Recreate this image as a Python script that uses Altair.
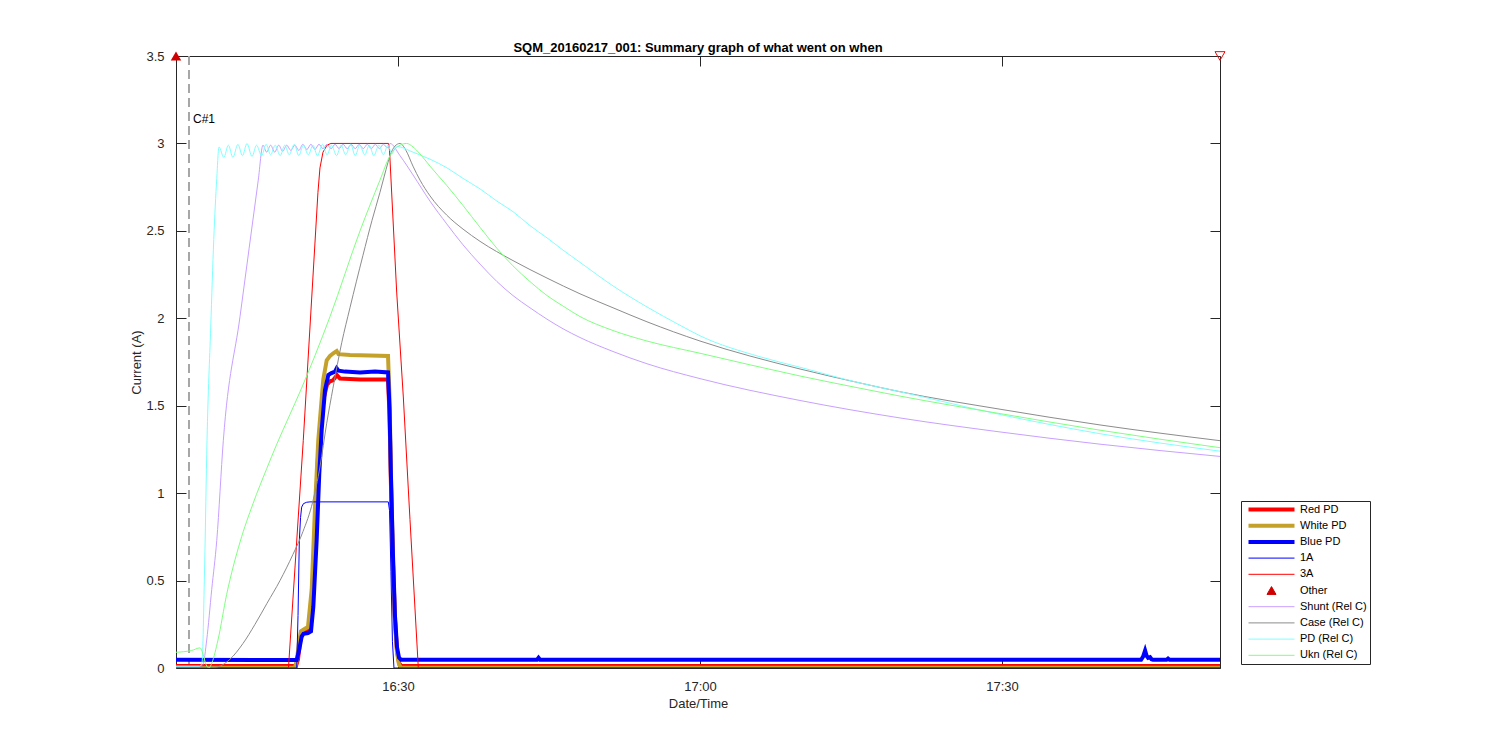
import altair as alt
import pandas as pd

FONT = "Liberation Sans, Arial, Helvetica, sans-serif"
BASE = pd.Timestamp("2016-02-17 16:00:00")

series_names = ["Red PD", "White PD", "Blue PD", "1A", "3A", "Other",
                "Shunt (Rel C)", "Case (Rel C)", "PD (Rel C)", "Ukn (Rel C)"]
series_colors = ["#ff0000", "#c4a12a", "#0000ff", "#0000ff", "#ff0000", "#d00000",
                 "#c8a0ff", "#8c8c8c", "#80ffff", "#80ff80"]

# times are minutes after 16:00, values are current in A
red_pd_min = [7.95, 19.87, 20.07, 20.27, 20.46, 20.86, 21.16, 21.46, 21.76, 22.05, 22.35, 22.65,
              22.95, 23.25, 23.54, 23.94, 24.24, 26.23, 29.01, 29.16, 29.30, 29.50, 29.70, 29.90,
              30.10, 30.30, 111.65]
red_pd_amp = [0.012, 0.012, 0.05, 0.15, 0.19, 0.21, 0.22, 0.35, 0.80, 1.20, 1.42, 1.55,
              1.62, 1.64, 1.645, 1.675, 1.655, 1.65, 1.65, 1.45, 1.05, 0.60, 0.28, 0.10,
              0.03, 0.012, 0.012]

white_pd_min = [7.95, 19.77, 19.97, 20.17, 20.36, 20.76, 21.06, 21.43, 21.76, 22.08, 22.25, 22.58,
                22.92, 23.25, 23.57, 23.91, 24.09, 25.23, 27.22, 29.01, 29.16, 29.30, 29.50, 29.70,
                29.90, 30.10, 30.30, 111.65]
white_pd_amp = [0.002, 0.002, 0.05, 0.15, 0.21, 0.225, 0.235, 0.45, 0.92, 1.30, 1.42, 1.65,
                1.76, 1.785, 1.80, 1.813, 1.795, 1.79, 1.787, 1.785, 1.55, 1.10, 0.62, 0.27,
                0.09, 0.02, 0.002, 0.002]

blue_pd_min = [7.95, 19.94, 20.17, 20.43, 20.61, 21.06, 21.36, 21.59, 21.92, 22.18, 22.42, 22.75,
               23.08, 23.34, 23.74, 23.91, 24.09, 24.74, 26.23, 27.72, 29.01, 29.16, 29.30, 29.50,
               29.70, 29.90, 30.10, 30.30, 43.81, 43.96, 44.11, 103.81, 104.01, 104.21, 104.36,
               104.51, 104.70, 104.85, 105.00, 106.34, 106.49, 106.64, 111.65]
blue_pd_amp = [0.047, 0.046, 0.10, 0.18, 0.195, 0.20, 0.21, 0.35, 0.73, 1.11, 1.36, 1.59,
               1.676, 1.685, 1.695, 1.714, 1.70, 1.695, 1.69, 1.695, 1.69, 1.48, 1.10, 0.65,
               0.30, 0.12, 0.06, 0.047, 0.047, 0.058, 0.047, 0.047, 0.065, 0.10, 0.07,
               0.058, 0.062, 0.05, 0.047, 0.047, 0.054, 0.047, 0.047]

a1_min = [7.95, 19.94, 20.07, 20.20, 20.32, 20.43, 20.61, 20.93, 21.26, 29.04, 29.16, 29.30,
          29.45, 29.60, 111.65]
a1_amp = [0.0, 0.0, 0.30, 0.73, 0.86, 0.92, 0.94, 0.948, 0.95, 0.95, 0.90, 0.55,
          0.15, 0.0, 0.0]

a3_min = [7.95, 19.12, 20.59, 22.05, 22.25, 22.55, 22.95, 23.34, 24.24, 29.06, 29.16, 29.87,
          30.53, 31.19, 32.02, 111.65]
a3_amp = [0.0, 0.0, 1.30, 2.72, 2.86, 2.95, 2.99, 3.0, 3.0, 3.0, 2.96, 2.15,
          1.55, 0.85, 0.0, 0.0]

other_min = [7.95]
other_amp = [3.5]
end_min = [111.65]
end_amp = [3.5]

shunt_min = [7.95, 10.33, 10.63, 11.00, 11.50, 12.00, 12.65, 14.31, 16.12, 16.59,
             16.95, 17.35, 17.75, 18.15, 18.55, 18.95, 19.35, 19.75, 20.15, 20.55,
             20.95, 21.35, 21.75, 22.15, 22.55, 22.95, 23.35, 23.75, 24.15, 24.55,
             24.95, 25.35, 25.75, 26.15, 26.55, 26.95, 27.35, 27.75, 28.15, 28.55,
             28.95, 29.21, 30.20, 31.49, 33.18, 34.84, 36.46, 38.15, 39.83, 41.42,
             43.11, 44.80, 46.39, 48.08, 51.36, 54.73, 60.00, 69.93, 79.87, 89.80,
             99.73, 111.65]
shunt_amp = [0.01, 0.01, 0.02, 0.16, 0.45, 0.73, 1.30, 2.01, 2.79, 2.99,
             2.95, 2.99, 2.95, 2.99, 2.955, 2.99, 2.96, 2.99, 2.96, 2.995,
             2.965, 2.995, 2.965, 2.995, 2.97, 2.995, 2.97, 2.995, 2.97, 2.995,
             2.97, 2.995, 2.97, 2.995, 2.97, 2.995, 2.97, 2.995, 2.97, 2.995,
             2.975, 3.0, 2.93, 2.82, 2.67, 2.54, 2.42, 2.31, 2.21, 2.13,
             2.06, 1.995, 1.94, 1.89, 1.81, 1.74, 1.655, 1.53, 1.43, 1.35,
             1.28, 1.21]

case_min = [7.95, 11.00, 11.82, 13.31, 14.60, 15.80, 16.99, 18.28, 19.57, 20.56, 21.53, 22.25,
            22.92, 23.54, 24.41, 25.23, 26.52, 27.42, 28.21, 28.81, 29.21, 29.70, 30.20, 30.79,
            31.49, 32.19, 33.18, 34.84, 36.46, 38.15, 41.42, 44.80, 48.08, 51.36, 54.73, 60.00,
            69.93, 75.89, 79.87, 89.80, 99.73, 111.65]
case_amp = [0.005, 0.005, 0.005, 0.05, 0.14, 0.25, 0.37, 0.50, 0.65, 0.78, 0.95, 1.15,
            1.40, 1.60, 1.86, 2.06, 2.36, 2.56, 2.72, 2.85, 2.93, 2.985, 3.0, 2.96,
            2.87, 2.79, 2.70, 2.59, 2.51, 2.44, 2.33, 2.23, 2.14, 2.06, 1.98, 1.87,
            1.71, 1.63, 1.58, 1.48, 1.39, 1.30]

pd_min = [7.95, 10.30, 10.53, 10.80, 11.03, 11.40, 11.70, 12.00, 12.22,
          12.70, 13.15, 13.60, 14.10, 14.55, 15.00, 15.50, 15.95, 16.45, 16.90,
          17.35, 17.80, 18.30, 18.75, 19.20, 19.70, 20.15, 20.60, 21.10, 21.55,
          22.00, 22.50, 22.95, 23.40, 23.90, 24.35, 24.80, 25.30, 25.75, 26.20,
          26.70, 27.15, 27.60, 28.10, 28.55, 29.00, 29.40, 29.80, 30.20, 31.49,
          33.18, 34.87, 36.46, 38.15, 39.83, 41.42, 43.11, 44.80, 46.39, 48.08,
          51.36, 54.73, 58.01, 60.00, 65.96, 69.93, 75.89, 79.87, 89.80, 99.73,
          111.65]
pd_amp = [0.01, 0.01, 0.03, 0.60, 1.30, 1.95, 2.45, 2.80, 2.98,
          2.92, 2.99, 2.92, 2.995, 2.93, 3.0, 2.925, 2.99, 2.93, 2.995,
          2.935, 2.99, 2.93, 2.99, 2.935, 2.995, 2.93, 2.99, 2.935, 2.99,
          2.93, 2.995, 2.935, 2.99, 2.93, 2.99, 2.935, 2.995, 2.93, 2.99,
          2.935, 2.99, 2.93, 2.99, 2.935, 2.99, 2.94, 2.985, 2.98, 2.95,
          2.91, 2.86, 2.80, 2.74, 2.67, 2.61, 2.53, 2.46, 2.39, 2.32,
          2.185, 2.065, 1.96, 1.90, 1.78, 1.72, 1.63, 1.58, 1.45, 1.34,
          1.24]

ukn_min = [7.95, 9.50, 10.33, 10.63, 10.93, 11.23, 11.52, 12.12, 12.98, 14.31, 15.60, 16.96,
           17.96, 19.27, 20.27, 23.25, 26.23, 28.21, 29.21, 30.20, 30.86, 31.49, 32.19, 33.18,
           34.84, 36.46, 38.15, 39.83, 41.42, 43.11, 44.80, 46.39, 48.08, 51.36, 54.73, 60.00,
           69.93, 75.89, 79.87, 89.80, 99.73, 111.65]
ukn_amp = [0.09, 0.10, 0.115, 0.08, 0.02, 0.0, 0.03, 0.16, 0.42, 0.72, 0.94, 1.14,
           1.28, 1.45, 1.58, 2.01, 2.50, 2.79, 2.93, 2.99, 3.0, 2.98, 2.94, 2.87,
           2.76, 2.645, 2.52, 2.40, 2.30, 2.21, 2.13, 2.07, 2.01, 1.93, 1.87, 1.80,
           1.67, 1.60, 1.555, 1.455, 1.36, 1.26]

cursor_min = [9.24]
cursor_label = ["C#1"]
cursor_label_amp = [3.14]

x_tick_times = [(16, 30), (17, 0), (17, 30)]
y_tick_values = [0, 0.5, 1, 1.5, 2, 2.5, 3, 3.5]
x_start = (16, 7, 57)
x_end = (17, 51, 39)


def stamp(m):
    t = BASE + pd.Timedelta(minutes=m)
    return t.strftime("%Y-%m-%dT%H:%M:%S.%f")[:-3] + "Z"


def frame(name, mins, amps):
    return pd.DataFrame({"t": [stamp(m) for m in mins], "v": amps, "series": name})


def dt(h, m, s=0):
    return alt.DateTime(year=2016, month=2, date=17, hours=h, minutes=m, seconds=s, utc=True)


xscale = alt.Scale(type="utc", domain=[dt(*x_start), dt(*x_end)])
yscale = alt.Scale(domain=[0, 3.5], nice=False, zero=False)
xvals = [dt(h, m) for h, m in x_tick_times]

AX_COL = "#262626"

x_main_axis = alt.Axis(orient="bottom", values=xvals, labelExpr="utcFormat(datum.value, '%H:%M')",
                       offset=-10, tickSize=10, labelPadding=12, domain=False, grid=False,
                       title="Date/Time", titlePadding=4, labelFlush=False)
y_main_axis = alt.Axis(orient="left", values=y_tick_values, format="~g",
                       offset=-10, tickSize=10, labelPadding=12, domain=False, grid=False,
                       title="Current (A)", titlePadding=2, labelFlush=False)
x_top_axis = alt.Axis(orient="top", values=xvals, offset=-10, tickSize=10, labels=False,
                      domain=False, grid=False, title=None)
y_right_axis = alt.Axis(orient="right", values=y_tick_values, offset=-10, tickSize=10,
                        labels=False, domain=False, grid=False, title=None)

legend_spec = alt.Legend(
    title=None, orient="none", legendX=1065, legendY=445, direction="vertical",
    padding=3, symbolOffset=4, labelOffset=5, rowPadding=4.2, clipHeight=11,
    strokeColor=AX_COL, fillColor="#ffffff",
    labelFont=FONT, labelFontSize=11, labelColor="#000000", labelLimit=300,
    symbolType=alt.ExprRef(expr="(datum.value === 'Other' ? 'triangle-up' : 'stroke')"),
    symbolSize=alt.ExprRef(expr="(datum.value === 'Other' ? 81 : 2116)"),
    symbolStrokeWidth=alt.ExprRef(
        expr="(indexof(['Red PD','White PD','Blue PD'], datum.value) >= 0 ? 4 : 1)"),
    symbolStrokeColor=alt.ExprRef(expr="scale('color', datum.value)"),
    symbolFillColor=alt.ExprRef(expr="(datum.value === 'Other' ? '#d00000' : 'transparent')"),
    symbolOpacity=1,
)
color_enc = alt.Color("series:N", scale=alt.Scale(domain=series_names, range=series_colors),
                      legend=legend_spec)


def line_layer(name, mins, amps, width, first=False, interp="linear"):
    return alt.Chart(frame(name, mins, amps)).mark_line(
        clip=True, interpolate=interp
    ).encode(
        x=alt.X("t:T", scale=xscale, axis=x_main_axis if first else None),
        y=alt.Y("v:Q", scale=yscale, axis=y_main_axis if first else None),
        color=color_enc,
        strokeWidth=alt.value(width),
    )


cursor_df = pd.DataFrame({"t": [stamp(m) for m in cursor_min], "label": cursor_label,
                          "v": cursor_label_amp})
cursor_rule = alt.Chart(cursor_df).mark_rule(
    color="#a6a6a6", strokeWidth=2, strokeDash=[9, 5]
).encode(x=alt.X("t:T", scale=xscale, axis=None))
cursor_text = alt.Chart(cursor_df).mark_text(
    align="left", baseline="middle", dx=4, font=FONT, fontSize=12, color="#000000"
).encode(
    x=alt.X("t:T", scale=xscale, axis=None),
    y=alt.Y("v:Q", scale=yscale, axis=None),
    text="label:N",
)

other_layer = alt.Chart(frame("Other", other_min, other_amp)).mark_point(
    shape="triangle-up", filled=True, size=110, opacity=1, clip=False
).encode(
    x=alt.X("t:T", scale=xscale, axis=x_top_axis),
    y=alt.Y("v:Q", scale=yscale, axis=y_right_axis),
    color=color_enc,
)
end_layer = alt.Chart(frame("End", end_min, end_amp)).mark_point(
    shape="triangle-down", filled=False, size=100, opacity=1, color="#ff0000",
    strokeWidth=1, clip=False
).encode(
    x=alt.X("t:T", scale=xscale, axis=None),
    y=alt.Y("v:Q", scale=yscale, axis=None),
)

layers = [
    cursor_rule,
    line_layer("Red PD", red_pd_min, red_pd_amp, 4, first=True),
    line_layer("White PD", white_pd_min, white_pd_amp, 4),
    line_layer("Blue PD", blue_pd_min, blue_pd_amp, 4),
    line_layer("1A", a1_min, a1_amp, 1),
    line_layer("3A", a3_min, a3_amp, 1),
    other_layer,
    line_layer("Shunt (Rel C)", shunt_min, shunt_amp, 1, interp="monotone"),
    line_layer("Case (Rel C)", case_min, case_amp, 1, interp="monotone"),
    line_layer("PD (Rel C)", pd_min, pd_amp, 1, interp="monotone"),
    line_layer("Ukn (Rel C)", ukn_min, ukn_amp, 1, interp="monotone"),
    end_layer,
    cursor_text,
]

chart = alt.layer(*layers).resolve_axis(x="independent", y="independent").properties(
    width=1044, height=612,
    title=alt.TitleParams(text="SQM_20160217_001: Summary graph of what went on when",
                          font=FONT, fontSize=13, fontWeight="bold", color="#000000",
                          anchor="middle", offset=4, dy=9),
    padding={"left": 168, "top": 48, "right": 250, "bottom": 50},
    autosize=alt.AutoSizeParams(type="none"),
).configure_view(stroke=AX_COL, strokeWidth=1).configure_axis(
    labelFont=FONT, labelFontSize=13, labelColor=AX_COL,
    titleFont=FONT, titleFontSize=13, titleColor=AX_COL, titleFontWeight="normal",
    tickColor=AX_COL, tickWidth=1,
)

chart.save("out.html", embed_options={"renderer": "svg", "actions": False})
